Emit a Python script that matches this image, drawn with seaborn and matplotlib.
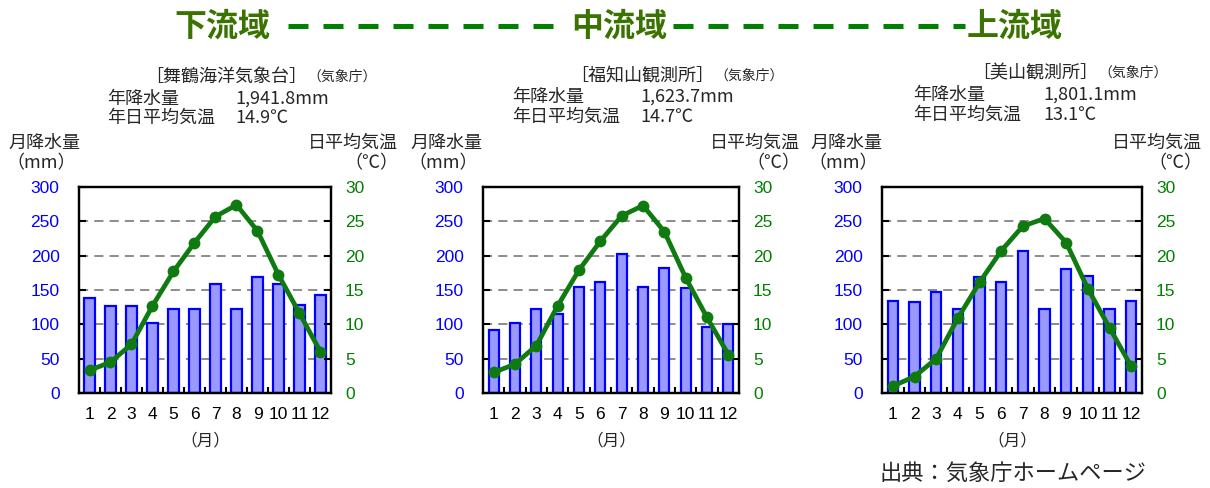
import numpy as np
import pandas as pd
import matplotlib
matplotlib.use("Agg")
import matplotlib.pyplot as plt
from matplotlib.lines import Line2D
from matplotlib.text import Annotation
from matplotlib.ticker import FixedLocator
import seaborn as sns

# ---- data -------------------------------------------------------------
months = list(range(1, 13))
month_labels = [str(m) for m in months]

maizuru_precip = [139, 127, 127, 102, 122, 122, 159, 122, 169, 159, 128, 143]
maizuru_temp = [3.3, 4.5, 7.1, 12.7, 17.7, 21.9, 25.7, 27.4, 23.6, 17.2, 11.6, 6.0]

fukuchiyama_precip = [92, 102, 122, 115, 155, 161, 203, 155, 182, 153, 96, 100]
fukuchiyama_temp = [3.0, 4.2, 6.9, 12.7, 17.9, 22.1, 25.8, 27.3, 23.5, 16.8, 11.0, 5.6]

miyama_precip = [134, 133, 147, 122, 169, 162, 207, 123, 181, 170, 123, 134]
miyama_temp = [1.0, 2.4, 5.0, 10.9, 16.1, 20.7, 24.3, 25.4, 21.9, 15.2, 9.5, 3.9]

reaches = ["下流域", "中流域", "上流域"]
station_names = ["［舞鶴海洋気象台］", "［福知山観測所］", "［美山観測所］"]
agency = "（気象庁）"
annual_precip = ["1,941.8mm", "1,623.7mm", "1,801.1mm"]
annual_temp = ["14.9℃", "14.7℃", "13.1℃"]
precip_ticks = [0, 50, 100, 150, 200, 250, 300]
temp_ticks = [0, 5, 10, 15, 20, 25, 30]

# ---- style ------------------------------------------------------------
sns.set_theme(style="white")
plt.rcParams["font.family"] = ["Noto Sans CJK JP", "DejaVu Sans"]
plt.rcParams["axes.unicode_minus"] = False

W, H = 1210, 488
fig = plt.figure(figsize=(W / 100, H / 100), dpi=100)
fig.patch.set_facecolor("white")

BAR_FILL = "#9999ff"
BAR_EDGE = "#0000ff"
LINE_GREEN = "#0f7a0f"
TICK_BLUE = "#0000ff"
TICK_GREEN = "#008000"
TITLE_GREEN = "#3b7300"
NUM_FONT = ["Liberation Sans", "DejaVu Sans"]


def px_rect(left, top, right, bottom):
    return [left / W, 1 - bottom / H, (right - left) / W, (bottom - top) / H]


def ftext(x, y, s, **kw):
    kw.setdefault("va", "center")
    return fig.text(x / W, 1 - y / H, s, **kw)


panels = [
    dict(precip=maizuru_precip, temp=maizuru_temp,
         rect=(79, 187, 331, 393), lab_l=8, lab_r=398,
         st_x=145, st_y=77, row_x=107, val_x=235, row_y=(99, 118)),
    dict(precip=fukuchiyama_precip, temp=fukuchiyama_temp,
         rect=(483, 187, 739, 393), lab_l=410, lab_r=800,
         st_x=570, st_y=76, row_x=512, val_x=640, row_y=(97, 117)),
    dict(precip=miyama_precip, temp=miyama_temp,
         rect=(882, 187, 1142, 393), lab_l=810, lab_r=1202,
         st_x=972, st_y=73, row_x=913, val_x=1043, row_y=(95, 115)),
]

for i, p in enumerate(panels):
    l, t, r, b = p["rect"]
    ax = fig.add_axes(px_rect(l, t, r, b))
    df = pd.DataFrame({"month": months, "precip": p["precip"], "temp": p["temp"]})

    # monthly precipitation bars
    sns.barplot(data=df, x="month", y="precip", ax=ax, native_scale=True,
                width=0.48, color=BAR_FILL, saturation=1, edgecolor=BAR_EDGE,
                linewidth=1.6, errorbar=None, zorder=2)
    ax.set_xlim(0.5, 12.5)
    ax.set_ylim(0, 300)
    ax.set_yticks(precip_ticks)
    ax.set_xticks(months)
    ax.set_xticklabels(month_labels)
    ax.xaxis.set_minor_locator(FixedLocator(np.arange(1.5, 12, 1)))
    ax.set_xlabel("")
    ax.set_ylabel("")
    ax.set_axisbelow(True)
    ax.yaxis.grid(True, linestyle=(0, (6, 4)), color="#6e6e6e", linewidth=1.1)
    ax.xaxis.grid(False)
    ax.tick_params(axis="y", direction="in", length=5, width=1.5, color="black",
                   labelcolor=TICK_BLUE, labelsize=12.5, pad=14,
                   labelfontfamily=NUM_FONT, left=True)
    ax.tick_params(axis="x", which="major", length=0, pad=10, labelsize=12.5,
                   labelcolor="black", labelfontfamily=NUM_FONT, bottom=True)
    ax.tick_params(axis="x", which="minor", direction="in", length=4, width=1.5,
                   color="black", bottom=True)
    for sp in ax.spines.values():
        sp.set_color("black")
        sp.set_linewidth(1.6)

    # daily mean temperature line
    ax2 = ax.twinx()
    sns.lineplot(data=df, x="month", y="temp", ax=ax2, color=LINE_GREEN,
                 linewidth=3.4, marker="o", markersize=8.5, markeredgewidth=0,
                 markerfacecolor=LINE_GREEN, zorder=3)
    ax2.set_ylim(0, 30)
    ax2.set_yticks(temp_ticks)
    ax2.set_xlim(0.5, 12.5)
    ax2.set_ylabel("")
    ax2.grid(False)
    ax2.tick_params(axis="y", direction="in", length=5, width=1.5, color="black",
                    labelcolor=TICK_GREEN, labelsize=12.5, pad=10,
                    labelfontfamily=NUM_FONT, right=True)
    for sp in ax2.spines.values():
        sp.set_color("black")
        sp.set_linewidth(1.6)

    # axis captions
    ftext(p["lab_l"], 143, "月降水量", fontsize=13, ha="left")
    ftext(p["lab_l"] - 2, 163, "（mm）", fontsize=13, ha="left")
    ftext(p["lab_r"], 143, "日平均気温", fontsize=13, ha="right")
    ftext(p["lab_r"], 163, "（℃）", fontsize=13, ha="right")
    ftext((l + r) / 2, 441, "（月）", fontsize=12, ha="center")

    # station summary: the agency note follows right after the station name
    name_txt = ftext(p["st_x"], p["st_y"], station_names[i], fontsize=13, ha="left")
    fig.add_artist(Annotation(
        agency, xy=(1, 0.5), xycoords=name_txt, xytext=(0, 0),
        textcoords="offset points", fontsize=10, ha="left", va="center"))
    ftext(p["row_x"], p["row_y"][0], "年降水量", fontsize=13, ha="left")
    ftext(p["val_x"], p["row_y"][0], annual_precip[i], fontsize=13, ha="left")
    ftext(p["row_x"], p["row_y"][1], "年日平均気温", fontsize=13, ha="left")
    ftext(p["val_x"], p["row_y"][1], annual_temp[i], fontsize=13, ha="left")

# ---- river reach banner ------------------------------------------------
for x, name in zip([222, 619, 1015], reaches):
    ftext(x, 27, name, fontsize=23, fontweight="bold", color=TITLE_GREEN, ha="center")

for x0, x1 in [(288, 555), (673, 965)]:
    fig.add_artist(Line2D([x0 / W, x1 / W], [1 - 26 / H, 1 - 26 / H],
                          transform=fig.transFigure, color="#008000",
                          linewidth=3.6, linestyle=(0, (4, 3)),
                          dash_capstyle="butt"))

ftext(880, 473, "出典：気象庁ホームページ", fontsize=16, ha="left")

fig.savefig("out.png", dpi=100, facecolor="white")
